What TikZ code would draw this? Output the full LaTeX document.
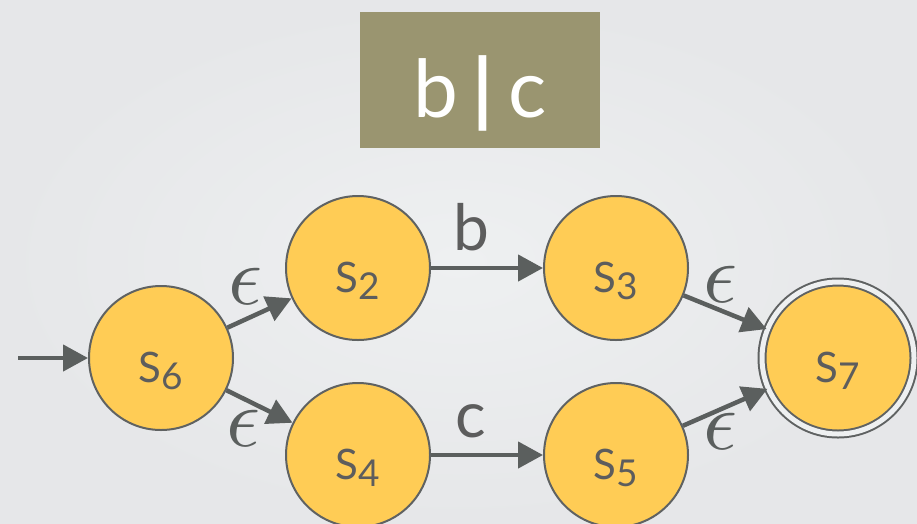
\documentclass[tikz,border=0pt]{standalone}
\usepackage{fontspec}
\setmainfont{Lato}
\usetikzlibrary{arrows.meta}
% let the math italic font scale freely for the large epsilon labels
\DeclareFontShape{OML}{cmm}{m}{it}{<->cmmi10}{}

\definecolor{bgin}{HTML}{EEF0F1}
\definecolor{bgout}{HTML}{E6E7E9}
\definecolor{titlebox}{HTML}{9A9570}
\definecolor{statefill}{HTML}{FFCC55}
\definecolor{stateline}{HTML}{5F6262}
\definecolor{ink}{HTML}{5B5F5E}
\definecolor{labelink}{HTML}{5D5D5D}

\newcommand{\statename}[1]{\raisebox{-24pt}{S\raisebox{-7pt}{\fontsize{37}{37}\selectfont #1}}}

\tikzset{
  state/.style={circle, draw=stateline, line width=2pt, fill=statefill,
    minimum size=144pt, inner sep=0pt, text=labelink,
    font=\fontsize{42}{42}\selectfont, text height=0pt, text depth=0pt},
  accepting/.style={minimum size=152pt, double=bgin, double distance=5pt},
  edge/.style={draw=ink, line width=4.5pt, -{Triangle[length=25pt,width=26pt]}},
  epslabel/.style={text=ink, font=\fontsize{84}{84}\selectfont, inner sep=0pt},
  symlabel/.style={text=labelink, font=\fontsize{64}{64}\selectfont, inner sep=0pt, anchor=base},
  titlestyle/.style={fill=titlebox, minimum width=240pt, minimum height=136pt,
    inner sep=0pt, text=white, font=\fontsize{80}{80}\selectfont,
    text height=0pt, text depth=0pt}
}

\begin{document}
\begin{tikzpicture}[x=1pt, y=-1pt]
  % background
  \useasboundingbox (0,0) rectangle (917,523);
  \shade[inner color=bgin, outer color=bgout] (0,0) rectangle (917,523);

  % title
  \node[titlestyle] (title) at (480,80)
    {\raisebox{-37pt}{b\hspace{15pt}{\bfseries |}\hspace{15pt}c}};

  % states
  \node[state] (s6) at (161,358) {\statename{6}};
  \node[state] (s2) at (358,268) {\statename{2}};
  \node[state] (s3) at (616,268) {\statename{3}};
  \node[state] (s4) at (358,455) {\statename{4}};
  \node[state] (s5) at (616,455) {\statename{5}};
  \node[state, accepting] (s7) at (838,358) {\statename{7}};

  % start arrow
  \coordinate (start) at (18,358);
  \draw[edge] (start) -- (s6);

  % transitions
  \draw[edge] (s6) -- node[epslabel, xshift=-14pt, yshift=27pt] {$\epsilon$} (s2);
  \draw[edge] (s6) -- node[epslabel, xshift=-16pt, yshift=-22pt] {$\epsilon$} (s4);
  \draw[edge] (s2) -- node[symlabel, xshift=-16pt, yshift=18pt] {b} (s3);
  \draw[edge] (s4) -- node[symlabel, xshift=-16pt, yshift=18pt] {c} (s5);
  \draw[edge] (s3) -- node[epslabel, xshift=-5pt, yshift=28pt] {$\epsilon$} (s7);
  \draw[edge] (s5) -- node[epslabel, xshift=-5pt, yshift=-24pt] {$\epsilon$} (s7);
\end{tikzpicture}
\end{document}
